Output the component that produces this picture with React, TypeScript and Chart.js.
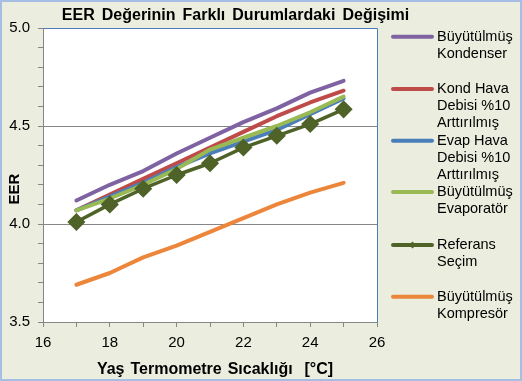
import React, { useEffect, useRef } from "react";
import { Chart, registerables } from "chart.js";
Chart.register(...registerables);

const temperatures = [17, 18, 19, 20, 21, 22, 23, 24, 25];
const buyutulmusKondenser = [4.12, 4.2, 4.27, 4.36, 4.44, 4.52, 4.59, 4.67, 4.73];
const kondHavaDebisi = [4.07, 4.15, 4.23, 4.31, 4.39, 4.47, 4.55, 4.62, 4.68];
const evapHavaDebisi = [4.07, 4.14, 4.21, 4.29, 4.36, 4.42, 4.48, 4.56, 4.64];
const buyutulmusEvaporator = [4.07, 4.13, 4.2, 4.28, 4.38, 4.44, 4.5, 4.57, 4.65];
const referansSecim = [4.01, 4.1, 4.18, 4.25, 4.31, 4.39, 4.45, 4.51, 4.585];
const buyutulmusKompresor = [3.69, 3.75, 3.83, 3.89, 3.96, 4.03, 4.1, 4.16, 4.21];

const seriesLabels = [
  ["Büyütülmüş", "Kondenser"],
  ["Kond Hava", "Debisi %10", "Arttırılmış"],
  ["Evap Hava", "Debisi %10", "Arttırılmış"],
  ["Büyütülmüş", "Evaporatör"],
  ["Referans", "Seçim"],
  ["Büyütülmüş", "Kompresör"],
];
const seriesColors = ["#7E62A1", "#BE4B48", "#4A7EBB", "#98B954", "#4F6228", "#EC863A"];
const seriesValues = [
  buyutulmusKondenser,
  kondHavaDebisi,
  evapHavaDebisi,
  buyutulmusEvaporator,
  referansSecim,
  buyutulmusKompresor,
];

const xTickLabels = [16, 18, 20, 22, 24, 26];
const yTickLabels = [3.5, 4.0, 4.5, 5.0];
const yGridValues = [4.0, 4.5];

const chartTitle = "EER Değerinin Farklı Durumlardaki Değişimi";
const xTitle = "Yaş Termometre Sıcaklığı  [°C]";
const yTitle = "EER";

const FONT = '"Liberation Sans", Arial, sans-serif';

const legendLineY = [36.7, 89, 140.7, 192, 245, 296.7];

const decorPlugin = {
  id: "decor",
  beforeDraw(chart: any) {
    const { ctx, chartArea: a, width, height } = chart;
    ctx.save();
    ctx.fillStyle = "#EBEEDE";
    ctx.fillRect(0, 0, width, height);
    ctx.strokeStyle = "#A7BEE4";
    ctx.lineWidth = 2;
    ctx.strokeRect(1, 1, width - 2, height - 2);
    ctx.fillStyle = "#FFFFFF";
    ctx.fillRect(a.left, a.top, a.right - a.left, a.bottom - a.top);
    ctx.restore();
  },
  beforeDatasetsDraw(chart: any) {
    const { ctx, chartArea: a } = chart;
    ctx.save();
    ctx.strokeStyle = "#4A7EBB";
    ctx.lineWidth = 1;
    ctx.beginPath();
    ctx.moveTo(Math.round(a.left) + 0.5, Math.round(a.top) + 0.5);
    ctx.lineTo(Math.round(a.right) + 0.5, Math.round(a.top) + 0.5);
    ctx.lineTo(Math.round(a.right) + 0.5, Math.round(a.bottom));
    ctx.stroke();
    ctx.restore();
  },
  afterDraw(chart: any) {
    const { ctx } = chart;
    ctx.save();
    ctx.fillStyle = "#000";
    ctx.textAlign = "center";
    ctx.textBaseline = "middle";
    ctx.font = `bold 16px ${FONT}`;
    (ctx as any).wordSpacing = "2.6px";
    ctx.fillText(chartTitle, 235.5, 15.5);
    (ctx as any).wordSpacing = "1.5px";
    ctx.fillText(xTitle, 215, 370);
    (ctx as any).wordSpacing = "0px";
    ctx.font = `bold 15px ${FONT}`;
    ctx.save();
    ctx.translate(15, 189);
    ctx.rotate(-Math.PI / 2);
    ctx.fillText(yTitle, 0, 0);
    ctx.restore();

    // legend
    ctx.textAlign = "left";
    ctx.font = `14.5px ${FONT}`;
    seriesLabels.forEach((lines, i) => {
      const y = legendLineY[i];
      ctx.strokeStyle = seriesColors[i];
      ctx.lineWidth = 4;
      ctx.lineCap = "round";
      ctx.beginPath();
      ctx.moveTo(393, y);
      ctx.lineTo(432, y);
      ctx.stroke();
      if (i === 4) {
        ctx.fillStyle = seriesColors[i];
        ctx.beginPath();
        ctx.moveTo(412.5 - 3.5, y);
        ctx.lineTo(412.5, y - 3.5);
        ctx.lineTo(412.5 + 3.5, y);
        ctx.lineTo(412.5, y + 3.5);
        ctx.closePath();
        ctx.fill();
      }
      ctx.fillStyle = "#000";
      lines.forEach((t, j) => {
        ctx.fillText(t, 437, y + j * 17.2);
      });
    });
    ctx.restore();
  },
};

export default function App() {
  const ref = useRef<HTMLCanvasElement | null>(null);
  useEffect(() => {
    if (!ref.current) return;
    const datasets = seriesValues.map((vals, i) => ({
      label: seriesLabels[i].join(" "),
      data: temperatures.map((t, k) => ({ x: t, y: vals[k] })),
      borderColor: seriesColors[i],
      backgroundColor: seriesColors[i],
      borderWidth: i === 4 ? 3.5 : 4,
      borderCapStyle: "round" as const,
      borderJoinStyle: "round" as const,
      pointRadius: i === 4 ? 8 : 0,
      pointHoverRadius: i === 4 ? 8 : 0,
      pointStyle: "rectRot" as const,
      pointBorderWidth: 1.5,
      pointBorderColor: seriesColors[i],
      pointBackgroundColor: seriesColors[i],
      tension: 0,
      order: 6 - i,
    }));
    const chart = new Chart(ref.current, {
      type: "line",
      data: { datasets },
      plugins: [decorPlugin],
      options: {
        animation: false,
        responsive: false,
        maintainAspectRatio: false,
        layout: { padding: { left: 0, right: 145, top: 28, bottom: 0 } },
        plugins: { legend: { display: false }, title: { display: false }, tooltip: { enabled: false } },
        scales: {
          x: {
            type: "linear",
            min: 16,
            max: 26,
            afterFit(scale: any) {
              scale.height = 59;
            },
            ticks: {
              stepSize: 1,
              autoSkip: false,
              maxRotation: 0,
              padding: 7,
              color: "#000",
              font: { family: FONT, size: 15 },
              callback: (v: any) => (xTickLabels.includes(Number(v)) ? String(v) : ""),
            },
            grid: { drawOnChartArea: false, tickLength: 5, tickColor: "#868686", lineWidth: 1 },
            border: { color: "#868686", width: 1 },
          },
          y: {
            type: "linear",
            min: 3.5,
            max: 5.0,
            afterFit(scale: any) {
              scale.width = 43;
            },
            ticks: {
              stepSize: 0.1,
              autoSkip: false,
              padding: 8,
              color: "#000",
              font: { family: FONT, size: 15 },
              callback: (v: any) => {
                const r = Math.round(Number(v) * 10) / 10;
                return yTickLabels.some((t) => Math.abs(t - r) < 1e-6) ? r.toFixed(1) : "";
              },
            },
            grid: {
              tickLength: 5,
              tickColor: "#868686",
              lineWidth: 1,
              color: (c: any) => {
                const v = c.tick ? c.tick.value : NaN;
                return yGridValues.some((g) => Math.abs(g - v) < 1e-6) ? "#868686" : "rgba(0,0,0,0)";
              },
            },
            border: { color: "#868686", width: 1 },
          },
        },
      },
    });
    return () => chart.destroy();
  }, []);
  return (
    <div style={{ position: "fixed", left: 0, top: 0, width: 522, height: 381 }}>
      <canvas ref={ref} width={522} height={381} style={{ width: 522, height: 381, display: "block" }} />
    </div>
  );
}
